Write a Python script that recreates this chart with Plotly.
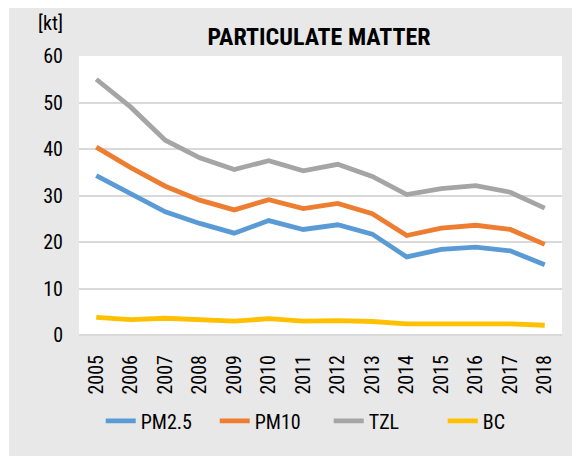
import plotly.graph_objects as go

years = [str(y) for y in range(2005, 2019)]
pm25 = [34.3, 30.4, 26.5, 24.0, 21.9, 24.6, 22.7, 23.7, 21.7, 16.8, 18.4, 18.9, 18.1, 15.1]
pm10 = [40.4, 36.0, 32.0, 29.0, 26.9, 29.1, 27.2, 28.3, 26.1, 21.4, 23.0, 23.6, 22.7, 19.5]
tzl = [55.0, 49.0, 41.9, 38.1, 35.6, 37.5, 35.3, 36.7, 34.1, 30.2, 31.5, 32.1, 30.7, 27.3]
bc = [3.8, 3.3, 3.6, 3.3, 3.0, 3.5, 3.0, 3.1, 2.9, 2.4, 2.4, 2.5, 2.4, 2.1]

series = [("PM2.5", pm25, "#5B9BD5"), ("PM10", pm10, "#ED7D31"),
          ("TZL", tzl, "#A5A5A5"), ("BC", bc, "#FFC000")]

FONT = "Liberation Sans Narrow, Arial Narrow, Roboto Condensed, sans-serif"

fig = go.Figure()
for name, vals, col in series:
    fig.add_trace(go.Scatter(x=years, y=vals, name=name, mode="lines",
                             line=dict(color=col, width=4.8)))

fig.update_layout(
    width=572, height=448,
    margin=dict(l=71, r=18, t=48, b=121),
    paper_bgcolor="#e8e8e8", plot_bgcolor="white",
    font=dict(family=FONT, size=20, color="#000000"),
    title=dict(text="<b>PARTICULATE MATTER</b>", x=0.497, xref="paper", xanchor="center",
               y=1 - 29 / 448, yref="container", yanchor="middle",
               font=dict(family=FONT, size=24, color="#000000")),
    showlegend=True,
    legend=dict(orientation="h", x=0.045, xanchor="left", y=-0.308, yanchor="middle",
                entrywidth=69, entrywidthmode="pixels",
                bgcolor="rgba(0,0,0,0)", font=dict(family=FONT, size=20)),
    xaxis=dict(type="category", range=[-0.5, 13.5], showgrid=False, tickangle=-90,
               showline=False, ticks="", ticklabelstandoff=15, fixedrange=True),
    yaxis=dict(range=[0, 60], dtick=10, showgrid=True, gridcolor="#d9d9d9", gridwidth=1.5,
               zeroline=True, zerolinecolor="#d9d9d9", zerolinewidth=1.5,
               showline=False, ticks="", ticklabelstandoff=15),
    annotations=[dict(text="[kt]", x=-0.06, y=(335 - 23.5) / 279, xref="paper", yref="paper",
                      xanchor="center", yanchor="middle", showarrow=False,
                      font=dict(family=FONT, size=20, color="#000000"))],
    shapes=[
        dict(type="rect", xref="paper", yref="paper", x0=-0.2, x1=(9 - 79) / 483,
             y0=-0.6, y1=1.4, fillcolor="white", line=dict(width=0), layer="below"),
    ],
)

fig.write_html("out.html")
